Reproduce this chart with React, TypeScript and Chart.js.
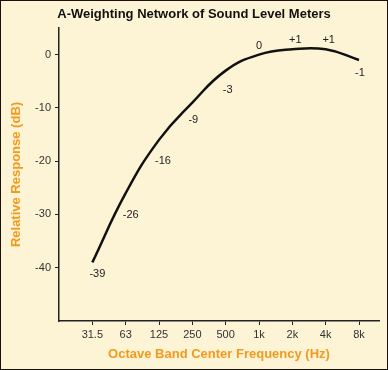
import React, { useEffect, useRef } from "react";
import { Chart, registerables } from "chart.js";

Chart.register(...registerables);

const categories = ["31.5", "63", "125", "250", "500", "1k", "2k", "4k", "8k"];
const responseDb = [-39, -26, -16, -9, -3, 0, 1, 1, -1];
const yTickValues = [-40, -30, -20, -10, 0];

// label placement relative to each point (style only)
const labelOffsets: [number, number][] = [
  [5, 12], [5, 22], [4, 21], [1, 17], [2, 19], [0, -9], [3, -9], [3, -9], [1, 13],
];

const FONT = "'Liberation Sans', Arial, Helvetica, sans-serif";
const BG = "#FDF3D5";
const ORANGE = "#F39A1E";

const framePlugin = {
  id: "frame",
  beforeDraw(chart: any) {
    const { ctx, width, height } = chart;
    ctx.save();
    ctx.fillStyle = BG;
    ctx.fillRect(0, 0, width, height);
    ctx.restore();
  },
  afterDraw(chart: any) {
    const { ctx, width, height } = chart;
    ctx.save();
    ctx.strokeStyle = "#1a1008";
    ctx.lineWidth = 1;
    ctx.strokeRect(0.5, 0.5, width - 1, height - 1);
    ctx.restore();
  },
};

const pointLabelPlugin = {
  id: "pointLabels",
  afterDatasetsDraw(chart: any) {
    const { ctx } = chart;
    const meta = chart.getDatasetMeta(0);
    ctx.save();
    ctx.font = `11px ${FONT}`;
    ctx.fillStyle = "#222";
    ctx.textAlign = "center";
    ctx.textBaseline = "middle";
    meta.data.forEach((pt: any, i: number) => {
      const v = responseDb[i];
      const txt = v > 0 ? `+${v}` : String(v);
      const [dx, dy] = labelOffsets[i];
      ctx.fillText(txt, pt.x + dx, pt.y + dy);
    });
    ctx.restore();
  },
};

export default function App() {
  const ref = useRef<HTMLCanvasElement | null>(null);

  useEffect(() => {
    document.body.style.margin = "0";
    const canvas = ref.current;
    if (!canvas) return;
    const chart = new Chart(canvas, {
      type: "line",
      data: {
        datasets: [
          {
            data: responseDb.map((v, i) => ({ x: i, y: v })),
            borderColor: "#111",
            borderWidth: 2.5,
            pointRadius: 0,
            tension: 0.45,
            fill: false,
          },
        ],
      },
      options: {
        responsive: false,
        animation: false,
        layout: { padding: { top: 0, right: 9, bottom: 0, left: 9 } },
        plugins: {
          legend: { display: false },
          tooltip: { enabled: false },
          title: {
            display: true,
            text: "A-Weighting Network of Sound Level Meters",
            color: "#111",
            font: { family: FONT, size: 13, weight: "bold" },
            padding: { top: 6.2, bottom: 6.2 },
          },
        },
        scales: {
          x: {
            type: "linear",
            min: -1,
            max: 8.6,
            afterFit(scale: any) {
              scale.height = 49;
            },
            afterBuildTicks(scale: any) {
              scale.ticks = categories.map((_, i) => ({ value: i }));
            },
            ticks: {
              autoSkip: false,
              maxRotation: 0,
              padding: 3,
              color: "#333",
              font: { family: FONT, size: 11 },
              callback: (v: any) => categories[Math.round(Number(v))] ?? "",
            },
            grid: {
              display: true,
              drawOnChartArea: false,
              drawTicks: true,
              tickLength: 4,
              color: "#222",
            },
            border: { display: true, color: "#222", width: 1.5 },
            title: {
              display: true,
              text: "Octave Band Center Frequency (Hz)",
              color: ORANGE,
              font: { family: FONT, size: 13, weight: "bold" },
              padding: { top: 0, bottom: 8.2 },
            },
          },
          y: {
            type: "linear",
            min: -50,
            max: 5,
            afterFit(scale: any) {
              scale.width = 50;
            },
            afterBuildTicks(scale: any) {
              scale.ticks = yTickValues.map((v) => ({ value: v }));
            },
            ticks: {
              padding: 4,
              color: "#333",
              font: { family: FONT, size: 11 },
            },
            grid: {
              display: true,
              drawOnChartArea: false,
              drawTicks: true,
              tickLength: 4,
              color: "#222",
            },
            border: { display: true, color: "#222", width: 1.5 },
            title: {
              display: true,
              text: "Relative Response (dB)",
              color: ORANGE,
              font: { family: FONT, size: 13, weight: "bold" },
              padding: { top: 0, bottom: 0 },
            },
          },
        },
      },
      plugins: [framePlugin, pointLabelPlugin],
    } as any);
    return () => chart.destroy();
  }, []);

  return (
    <div style={{ width: 388, height: 370 }}>
      <canvas ref={ref} width={388} height={370} style={{ display: "block" }} />
    </div>
  );
}
